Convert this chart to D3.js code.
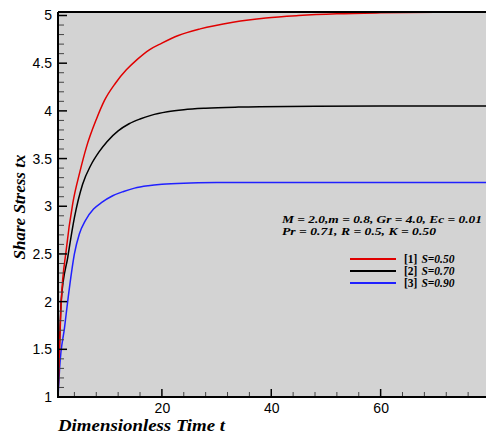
<!DOCTYPE html>
<html><head><meta charset="utf-8">
<script src="https://cdn.jsdelivr.net/npm/d3@7/dist/d3.min.js"></script>
<style>body{margin:0;background:#fff}svg{display:block}</style>
</head><body>
<svg id="c" width="486" height="437"></svg>
<script>
const tRed   = [1,1.6,2.5,3.7,5,6.2,8,9.5,11.5,13.5,15.5,17.7,20,23,27,33,39,45,52,60,70,80];
const vRed   = [1.0,2.0,2.54,3.03,3.36,3.62,3.91,4.11,4.29,4.43,4.54,4.64,4.71,4.79,4.86,4.93,4.975,5.0,5.018,5.028,5.034,5.037];
const tBlack = [1,1.6,2.8,4,5.5,7,8.5,10,12,14,16,18,21,24,28,34,43,60,80];
const vBlack = [1.0,2.02,2.47,2.88,3.23,3.43,3.57,3.68,3.79,3.865,3.915,3.953,3.99,4.012,4.028,4.04,4.047,4.05,4.05];
const tBlue  = [1,1.3,2.2,3.1,4,4.9,6,7.5,9,11,13,15,17.5,20,24,30,40,80];
const vBlue  = [1.0,1.31,1.73,2.15,2.5,2.71,2.85,2.97,3.04,3.11,3.155,3.19,3.215,3.23,3.242,3.248,3.25,3.25];
const seriesNames = ["[1]","[2]","[3]"];
const seriesS = ["S=0.50","S=0.70","S=0.90"];
const colors = ["#e00000","#000000","#2020ff"];
const xTicks = [20,40,60];
const yTicks = [1,1.5,2,2.5,3,3.5,4,4.5,5];
const paramLines = ["M = 2.0,m = 0.8, Gr = 4.0, Ec = 0.01","Pr = 0.71, R = 0.5, K = 0.50"];

const svg = d3.select("#c");
const x = d3.scaleLinear().domain([1,80]).range([58,490]);
const y = d3.scaleLinear().domain([1,5]).range([397,15.5]);
const yTop = 5.037;
const serif = "Liberation Serif, Times New Roman, serif";
const sans = "Liberation Sans, Arial, sans-serif";

svg.append("rect").attr("x",x(1)).attr("y",y(yTop)).attr("width",486-x(1)).attr("height",y(1)-y(yTop)).attr("fill","#d3d3d3");
svg.append("clipPath").attr("id","clip").append("rect").attr("x",x(1)).attr("y",y(yTop)-2).attr("width",486-x(1)).attr("height",y(1)-y(yTop)+2);

const series = [[tRed,vRed],[tBlack,vBlack],[tBlue,vBlue]];
const line = d3.line().x(d=>x(d[0])).y(d=>y(d[1])).curve(d3.curveMonotoneX);
const g = svg.append("g").attr("clip-path","url(#clip)");
[2,1,0].forEach(i=>{
  const s = series[i];
  g.append("path").datum(s[0].map((t,k)=>[t,s[1][k]])).attr("d",line)
   .attr("fill","none").attr("stroke",colors[i]).attr("stroke-width",1.5);
});

// axes labels
const xAxis = svg.append("g").attr("transform",`translate(0,${y(1)})`)
  .call(d3.axisBottom(x).tickValues(xTicks).tickSize(0).tickPadding(6).tickFormat(d3.format("d")));
xAxis.select(".domain").remove();
xAxis.selectAll("text").attr("font-family",sans).attr("font-size",14).attr("fill","#000");
const yAxis = svg.append("g").attr("transform",`translate(${x(1)},0)`)
  .call(d3.axisLeft(y).tickValues(yTicks).tickSize(0).tickPadding(6).tickFormat(d=>d));
yAxis.select(".domain").remove();
yAxis.selectAll("text").attr("font-family",sans).attr("font-size",14).attr("fill","#000");

// minor / major inward ticks
const tk = svg.append("g");
d3.range(4,80,4).forEach(t=>{
  const major = t%20===0;
  tk.append("line").attr("x1",x(t)).attr("x2",x(t)).attr("y1",y(1)).attr("y2",y(1)-(major?8:5)).attr("stroke-width",major?1.5:1).attr("stroke",major?"#000":"#444");
});
d3.range(11,51).map(v=>v/10).forEach(v=>{
  const major = Math.abs(v*2-Math.round(v*2))<1e-6;
  tk.append("line").attr("x1",x(1)).attr("x2",x(1)+(major?9:6)).attr("y1",y(v)).attr("y2",y(v)).attr("stroke-width",major?1.5:1).attr("stroke",major?"#000":"#444");
});

// frame
svg.append("line").attr("x1",x(1)).attr("x2",486).attr("y1",y(1)).attr("y2",y(1)).attr("stroke","#000").attr("stroke-width",2);
svg.append("line").attr("x1",x(1)).attr("x2",x(1)).attr("y1",y(yTop)).attr("y2",y(1)+1).attr("stroke","#000").attr("stroke-width",2);
svg.append("line").attr("x1",x(1)).attr("x2",486).attr("y1",y(yTop)).attr("y2",y(yTop)).attr("stroke","#000").attr("stroke-width",2);

// titles
svg.append("text").attr("x",58).attr("y",431).attr("font-family",serif).attr("font-size",17)
  .attr("font-weight","bold").attr("font-style","italic")
  .attr("textLength",167).attr("lengthAdjust","spacingAndGlyphs").text("Dimensionless Time t");
svg.append("text").attr("transform","translate(25,207) rotate(-90)").attr("text-anchor","middle")
  .attr("font-family",serif).attr("font-size",17)
  .attr("font-weight","bold").attr("font-style","italic").text("Share Stress tx");

// parameter text
const pLen = [200,154];
paramLines.forEach((p,i)=>{
  svg.append("text").attr("x",282).attr("y",222.5+i*12).attr("font-family",serif)
    .attr("font-size",10.5).attr("font-weight","bold").attr("font-style","italic")
    .attr("textLength",pLen[i]).attr("lengthAdjust","spacingAndGlyphs").text(p);
});

// legend
const ly = [259,271,283];
colors.forEach((c,i)=>{
  svg.append("line").attr("x1",350).attr("x2",396).attr("y1",ly[i]).attr("y2",ly[i]).attr("stroke",c).attr("stroke-width",1.8);
  const a = svg.append("text").attr("x",404).attr("y",ly[i]+4).attr("font-family",serif).attr("font-size",11.5).attr("font-weight","bold").text(seriesNames[i]);
  const w = a.node().getComputedTextLength();
  svg.append("text").attr("x",404+w+4).attr("y",ly[i]+4).attr("font-family",serif).attr("font-size",11.5)
    .attr("font-weight","bold").attr("font-style","italic").text(seriesS[i]);
});
</script>
</body></html>
